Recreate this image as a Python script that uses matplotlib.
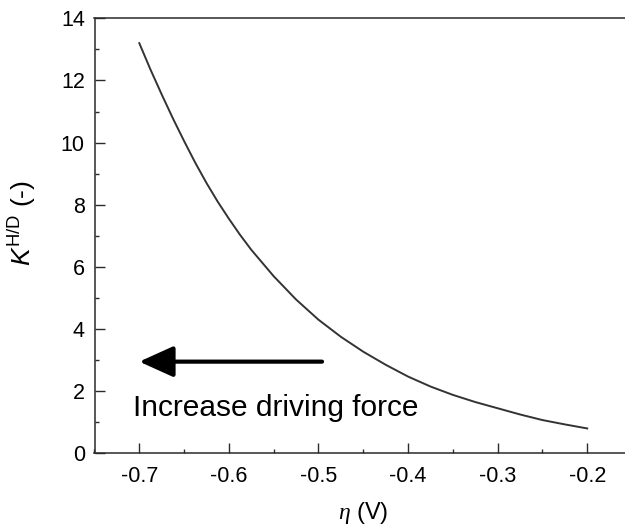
import matplotlib
matplotlib.use('Agg')
import matplotlib.pyplot as plt
from matplotlib.ticker import MultipleLocator

plt.rcParams['font.family'] = ['Liberation Sans', 'DejaVu Sans']
plt.rcParams['mathtext.fontset'] = 'custom'
plt.rcParams['mathtext.rm'] = 'Liberation Sans'
plt.rcParams['mathtext.it'] = 'Liberation Sans:italic'
plt.rcParams['mathtext.cal'] = 'Liberation Serif:italic'

# overpotential (V) and K^{H/D}
eta = [-0.700, -0.6875, -0.675, -0.6625, -0.650, -0.6375, -0.625, -0.6125,
       -0.600, -0.5875, -0.575, -0.550, -0.525, -0.500,
       -0.475, -0.450, -0.425, -0.400, -0.375, -0.350, -0.325, -0.300, -0.275,
       -0.250, -0.225, -0.200]
k_hd = [13.2, 12.35, 11.55, 10.78, 10.05, 9.35, 8.7, 8.1,
        7.55, 7.03, 6.55, 5.7, 4.95, 4.3,
        3.75, 3.27, 2.85, 2.47, 2.15, 1.88, 1.65, 1.45, 1.25,
        1.07, 0.93, 0.80]

x_ticks = [-0.7, -0.6, -0.5, -0.4, -0.3, -0.2]
y_ticks = [0, 2, 4, 6, 8, 10, 12, 14]

arrow_start = (-0.496, 2.95)
arrow_end = (-0.7, 2.95)
note = "Increase driving force"

fig = plt.figure(figsize=(6.25, 5.29), dpi=100)
ax = fig.add_axes([0.1512, 0.1431, 0.860, 0.8223])

ax.plot(eta, k_hd, color='#333333', lw=1.4)

ax.set_xlim(-0.75, -0.15)
ax.set_ylim(0, 14)
ax.set_xticks(x_ticks)
ax.set_yticks(y_ticks)
ax.xaxis.set_minor_locator(MultipleLocator(0.05))
ax.yaxis.set_minor_locator(MultipleLocator(1))
ax.set_xticklabels([f"{v:.1f}" for v in x_ticks])

for s in ax.spines.values():
    s.set_color('#2a2a2a')
    s.set_linewidth(1.1)

ax.tick_params(which='both', direction='in', color='#2a2a2a', width=1.0,
               labelsize=15.5)
ax.tick_params(which='major', length=7)
ax.tick_params(which='minor', length=3)
ax.tick_params(axis='x', pad=9)
ax.tick_params(axis='y', pad=7)

ax.set_xlabel(r'$\mathcal{\eta}$ (V)', fontsize=17)
ax.xaxis.set_label_coords(0.5, -0.108)
ax.set_ylabel(r'$K^{\mathrm{H/D}}$ (-)', fontsize=19)
ax.yaxis.set_label_coords(-0.105, 0.53)

ax.annotate('', xy=arrow_end, xytext=arrow_start,
            arrowprops=dict(arrowstyle='-|>,head_length=2.1,head_width=0.95',
                            lw=3, color='black', mutation_scale=10,
                            shrinkA=0, shrinkB=0))
ax.text(-0.707, 1.2, note, fontsize=21.5, color='black', ha='left', va='baseline')

fig.savefig('out.png', dpi=100)
